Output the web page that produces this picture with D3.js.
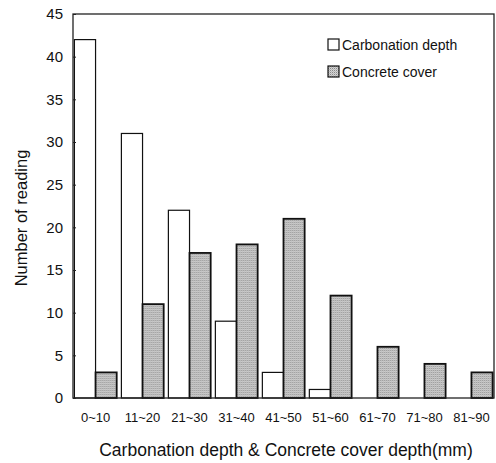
<!DOCTYPE html>
<html>
<head>
<meta charset="utf-8">
<script src="https://cdn.jsdelivr.net/npm/d3@7"></script>
<style>
  body { margin: 0; background: #fff; }
  svg { display: block; }
</style>
</head>
<body>
<script>
const categories = ['0~10', '11~20', '21~30', '31~40', '41~50', '51~60', '61~70', '71~80', '81~90'];
const carbonation = [42, 31, 22, 9, 3, 1, 0, 0, 0];
const cover = [3, 11, 17, 18, 21, 12, 6, 4, 3];
const seriesNames = ['Carbonation depth', 'Concrete cover'];
const yTicks = [0, 5, 10, 15, 20, 25, 30, 35, 40, 45];

const width = 496;
const height = 463;
const margin = { top: 14, right: 2, bottom: 65, left: 73 };

const svg = d3.select('body')
  .append('svg')
  .attr('width', width)
  .attr('height', height);

// stipple fill for the cover bars
const defs = svg.append('defs');
const pat = defs.append('pattern')
  .attr('id', 'dots')
  .attr('width', 2)
  .attr('height', 2)
  .attr('patternUnits', 'userSpaceOnUse');
pat.append('rect').attr('width', 2).attr('height', 2).attr('fill', '#d4d4d4');
pat.append('rect').attr('width', 1).attr('height', 1).attr('fill', '#8a8a8a');
pat.append('rect').attr('x', 1).attr('y', 1).attr('width', 1).attr('height', 1).attr('fill', '#b8b8b8');

const x = d3.scaleBand()
  .domain(categories)
  .range([margin.left, width - margin.right])
  .paddingInner(0.1)
  .paddingOuter(0.03);

const x1 = d3.scaleBand()
  .domain(seriesNames)
  .range([0, x.bandwidth()]);

const y = d3.scaleLinear()
  .domain([0, 45])
  .range([height - margin.bottom, margin.top]);

const rows = categories.map((c, i) => ({ cat: c, values: [carbonation[i], cover[i]] }));

const groups = svg.append('g')
  .selectAll('g')
  .data(rows)
  .enter()
  .append('g')
  .attr('transform', (d) => `translate(${x(d.cat)},0)`);

groups.selectAll('rect')
  .data((d) => d.values.map((v, k) => ({ key: seriesNames[k], v: v })))
  .enter()
  .filter((d) => d.v > 0)
  .append('rect')
  .attr('x', (d) => x1(d.key))
  .attr('y', (d) => y(d.v))
  .attr('width', x1.bandwidth())
  .attr('height', (d) => y(0) - y(d.v))
  .attr('fill', (d) => d.key === seriesNames[0] ? '#fff' : 'url(#dots)')
  .attr('stroke', '#111')
  .attr('stroke-width', (d) => d.key === seriesNames[0] ? 1.2 : 1.8);

// frame
svg.append('rect')
  .attr('x', margin.left)
  .attr('y', margin.top)
  .attr('width', width - margin.left - margin.right)
  .attr('height', height - margin.top - margin.bottom)
  .attr('fill', 'none')
  .attr('stroke', '#222')
  .attr('stroke-width', 1.3);

// y axis
const yAxis = svg.append('g')
  .attr('transform', `translate(${margin.left},0)`)
  .call(d3.axisLeft(y).tickValues(yTicks).tickSize(-3).tickPadding(10));
yAxis.select('.domain').remove();
yAxis.selectAll('text')
  .attr('font-family', 'Liberation Sans, Arial, sans-serif')
  .attr('font-size', 15)
  .attr('fill', '#111');
yAxis.selectAll('line').attr('stroke', '#222');

// x axis labels
const xAxis = svg.append('g')
  .attr('transform', `translate(0,${y(0)})`)
  .call(d3.axisBottom(x).tickSize(0).tickPadding(15));
xAxis.select('.domain').remove();
xAxis.selectAll('text')
  .attr('font-family', 'Liberation Sans Narrow, Liberation Sans, Arial, sans-serif')
  .attr('font-size', 13)
  .attr('fill', '#111');

// axis titles
svg.append('text')
  .attr('x', 286)
  .attr('y', 456)
  .attr('text-anchor', 'middle')
  .attr('font-family', 'Liberation Sans, Arial, sans-serif')
  .attr('font-size', 17.5)
  .attr('fill', '#111')
  .text('Carbonation depth & Concrete cover depth(mm)');

svg.append('text')
  .attr('transform', `translate(27,${(margin.top + y(0)) / 2 + 12}) rotate(-90)`)
  .attr('text-anchor', 'middle')
  .attr('font-family', 'Liberation Sans, Arial, sans-serif')
  .attr('font-size', 16.5)
  .attr('fill', '#111')
  .text('Number of reading');

// legend
const legend = svg.append('g')
  .attr('transform', 'translate(328,39)');
seriesNames.forEach((name, i) => {
  const row = legend.append('g').attr('transform', `translate(0,${i * 27})`);
  row.append('rect')
    .attr('width', 11)
    .attr('height', 11)
    .attr('fill', i === 0 ? '#fff' : 'url(#dots)')
    .attr('stroke', '#111')
    .attr('stroke-width', 1.2);
  row.append('text')
    .attr('x', 14)
    .attr('y', 11)
    .attr('font-family', 'Liberation Sans Narrow, Liberation Sans, Arial, sans-serif')
    .attr('font-size', 14)
    .attr('fill', '#111')
    .text(name);
});
</script>
</body>
</html>
